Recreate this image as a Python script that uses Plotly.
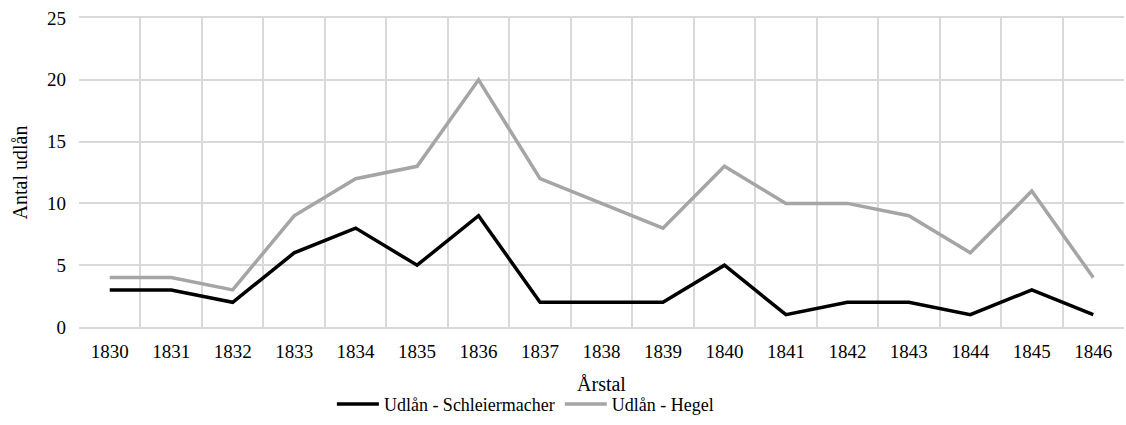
import plotly.graph_objects as go

years = [str(y) for y in range(1830, 1847)]
schleiermacher = [3, 3, 2, 6, 8, 5, 9, 2, 2, 2, 5, 1, 2, 2, 1, 3, 1]
hegel = [4, 4, 3, 9, 12, 13, 20, 12, 10, 8, 13, 10, 10, 9, 6, 11, 4]
y_ticks = [0, 5, 10, 15, 20, 25]

font_family = "Liberation Serif, Times New Roman, serif"

fig = go.Figure()
fig.add_trace(go.Scatter(x=years, y=schleiermacher, mode="lines",
                         name="Udlån - Schleiermacher",
                         line=dict(color="#000000", width=3.5)))
fig.add_trace(go.Scatter(x=years, y=hegel, mode="lines",
                         name="Udlån - Hegel",
                         line=dict(color="#a5a5a5", width=3.5)))

fig.update_layout(
    width=1126, height=425,
    margin=dict(l=79, r=2, t=18, b=90),
    paper_bgcolor="white", plot_bgcolor="white",
    font=dict(family=font_family, size=20, color="#000000"),
    showlegend=True,
    legend=dict(orientation="h", x=0.242, xanchor="left", y=-0.19, yanchor="top",
                font=dict(size=18), traceorder="normal", itemwidth=42),
    xaxis=dict(type="category", tickson="boundaries", showgrid=True,
               range=[-0.5, len(years) - 0.5], automargin=False,
               gridcolor="#d9d9d9", gridwidth=2, ticks="", showline=True,
               linecolor="#d9d9d9", linewidth=2, mirror=True,
               ticklabelstandoff=6,
               title=dict(text="Årstal", font=dict(size=20), standoff=16),
               tickfont=dict(size=19)),
    yaxis=dict(range=[0, 25], tickvals=y_ticks, showgrid=True, automargin=False,
               gridcolor="#d9d9d9", gridwidth=2, zeroline=False,
               showline=False, ticks="", ticklen=0, ticklabelstandoff=12,
               title=dict(text="Antal udlån", font=dict(size=20), standoff=14),
               tickfont=dict(size=19)),
)

fig.write_html("out.html", config={"responsive": False, "displayModeBar": False},
               post_script="document.body.style.margin='0px';")
